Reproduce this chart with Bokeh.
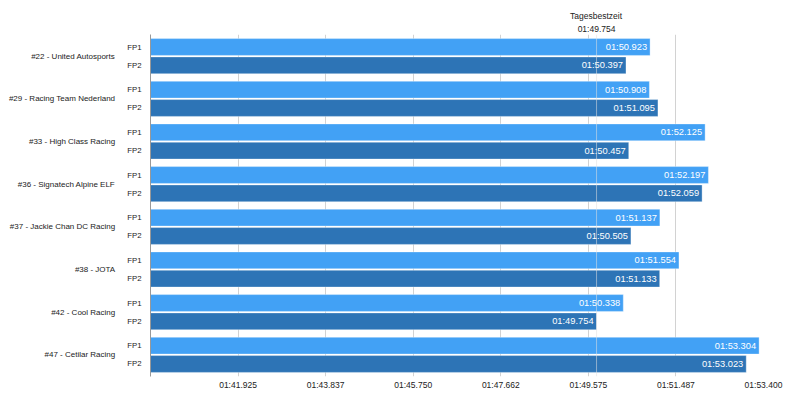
from bokeh.plotting import figure
from bokeh.models import FactorRange, ColumnDataSource, FixedTicker, Span, Title
from bokeh.core.properties import value
from bokeh.embed import file_html
from bokeh.resources import INLINE

teams = ["#22 - United Autosports", "#29 - Racing Team Nederland", "#33 - High Class Racing",
         "#36 - Signatech Alpine ELF", "#37 - Jackie Chan DC Racing", "#38 - JOTA",
         "#42 - Cool Racing", "#47 - Cetilar Racing"]
sessions = ["FP1", "FP2"]
fp1 = [110.923, 110.908, 112.125, 112.197, 111.137, 111.554, 110.338, 113.304]
fp2 = [110.397, 111.095, 110.457, 112.059, 110.505, 111.133, 109.754, 113.023]
best_time = 109.754
best_title = "Tagesbestzeit"
best_label = "01:49.754"
tick_values = [101.925, 103.8375, 105.75, 107.6625, 109.575, 111.4875, 113.4]
tick_labels = ["01:41.925", "01:43.837", "01:45.750", "01:47.662", "01:49.575", "01:51.487", "01:53.400"]
x_start, x_end = 100.0125, 113.4

FONT = "Liberation Sans"
C1, C2 = "#42a1f5", "#2d74b6"
W, H = 784, 393
BL, BR, BT, BB = 150, 21, 34, 17

def fmt(v):
    m = int(v // 60)
    return f"{m:02d}:{v - 60*m:06.3f}"

factors = []
for t in reversed(teams):
    factors.append((t, "FP2"))
    factors.append((t, "FP1"))

ys, vals, cols, labs = [], [], [], []
for t, a, b in zip(teams, fp1, fp2):
    for s, v, c in (("FP1", a, C1), ("FP2", b, C2)):
        ys.append((t, s)); vals.append(v); cols.append(c); labs.append(fmt(v))
src = ColumnDataSource(dict(y=ys, v=vals, c=cols, lab=labs))

p = figure(width=W, height=H, output_backend="svg", toolbar_location=None,
           y_range=FactorRange(*factors, group_padding=0.33, range_padding=0.02),
           x_range=(x_start, x_end),
           min_border_left=BL, min_border_right=BR, min_border_top=BT, min_border_bottom=BB)
p.outline_line_color = None
p.background_fill_color = "white"

p.hbar(y="y", left=x_start, right="v", height=0.92, fill_color="c", line_color="white",
       line_alpha=0.35, source=src)
p.text(x="v", y="y", text="lab", source=src, text_align="right", text_baseline="middle",
       x_offset=-3, text_color="white", text_font=value(FONT), text_font_size="9.3px")

p.add_layout(Span(location=best_time, dimension="height", line_color="#e0e0e0",
                  line_alpha=0.55, line_width=1))

p.xgrid.ticker = FixedTicker(ticks=tick_values)
p.xgrid.grid_line_color = "#d2d2d2"
p.ygrid.grid_line_color = None

xa = p.xaxis[0]
xa.ticker = FixedTicker(ticks=tick_values)
xa.major_label_overrides = dict(zip(tick_values, tick_labels))
xa.axis_line_color = None
xa.major_tick_line_color = None
xa.minor_tick_line_color = None
xa.major_tick_out = 0
xa.major_label_standoff = 3
xa.major_label_text_font = FONT
xa.major_label_text_font_size = "8.5px"
xa.major_label_text_color = "#222222"

ya = p.yaxis[0]
ya.axis_line_color = "#999999"
ya.major_tick_line_color = None
ya.minor_tick_line_color = None
ya.major_tick_out = 0
ya.major_label_standoff = 9
ya.major_label_text_font = FONT
ya.major_label_text_font_size = "7.8px"
ya.major_label_text_color = "#222222"
ya.group_label_orientation = "horizontal"
ya.group_text_font = FONT
ya.group_text_font_size = "8px"
ya.group_text_font_style = "normal"
ya.group_text_color = "#222222"
ya.separator_line_color = None

frame_w = W - BL - BR
x_px = (best_time - x_start) / (x_end - x_start) * frame_w
fs = 8.5
# approximate text widths (Arial metrics) to centre each line on the best-time marker
w_title = 6.225 * fs
w_label = 4.45 * fs
t2 = Title(text=best_label, align="left", offset=x_px - w_label / 2,
           text_font=FONT, text_font_size=f"{fs}px", text_font_style="normal",
           text_color="#222222", standoff=2)
t1 = Title(text=best_title, align="left", offset=x_px - w_title / 2,
           text_font=FONT, text_font_size=f"{fs}px", text_font_style="normal",
           text_color="#222222", standoff=0)
p.add_layout(t2, "above")
p.add_layout(t1, "above")

open("out.html", "w").write(file_html(p, INLINE))
